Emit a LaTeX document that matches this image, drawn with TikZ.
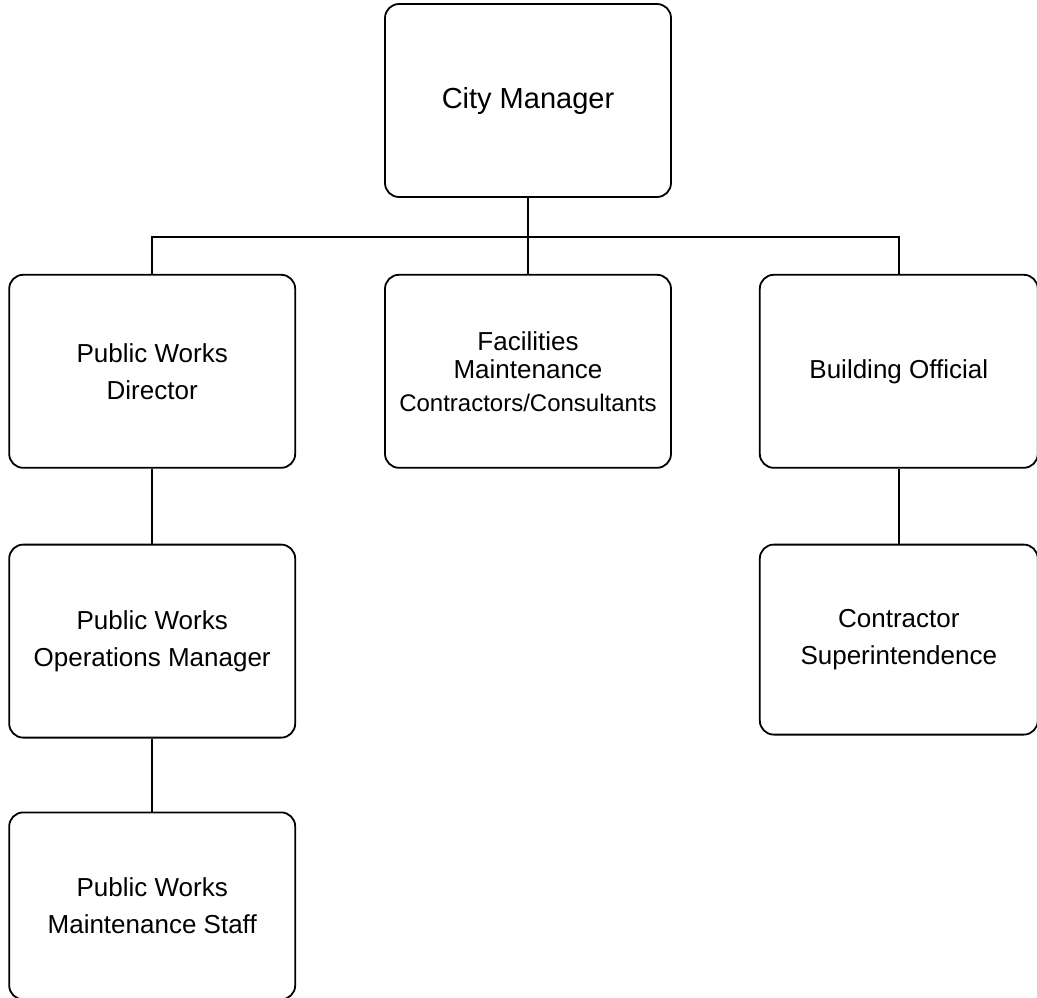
\documentclass[tikz,border=0pt]{standalone}
\usepackage{fontspec}
\setmainfont{Liberation Sans}
\usetikzlibrary{positioning}

\begin{document}
\begin{tikzpicture}[
    unit/.style={rectangle, draw, rounded corners=14pt, line width=1.8pt,
                 minimum width=286pt, minimum height=193pt, align=center,
                 font=\fontsize{26}{37}\selectfont, inner sep=0pt},
    link/.style={line width=2pt}]
    \useasboundingbox (0,0) rectangle (1037pt,-997pt);
    % Nodes
    \node[unit, font=\fontsize{29}{36}\selectfont] (cm) at (528pt,-100.5pt) {City Manager};
    \node[unit] (fm) [below=76pt of cm] {Facilities\\[-9pt]Maintenance\\[-4pt]{\fontsize{24}{30}\selectfont Contractors/Consultants}};
    \node[unit] (pwd) [left=88pt of fm] {Public Works\\Director};
    \node[unit, minimum width=278pt] (bo) [right=87pt of fm] {Building Official};
    \node[unit] (pwo) [below=75pt of pwd] {Public Works\\Operations Manager};
    \node[unit, minimum height=187pt] (pws) [below=73pt of pwo] {Public Works\\Maintenance Staff};
    \node[unit, minimum width=278pt, minimum height=190pt] (cs) [below=75pt of bo] {Contractor\\Superintendence};

    % Reporting lines
    \draw[link] (cm) -- (fm);
    \draw[link] (pwd.north) |- ([yshift=37pt]fm.north) -| (bo.north);
    \draw[link] (pwd) -- (pwo);
    \draw[link] (pwo) -- (pws);
    \draw[link] (bo) -- (cs);
\end{tikzpicture}
\end{document}
